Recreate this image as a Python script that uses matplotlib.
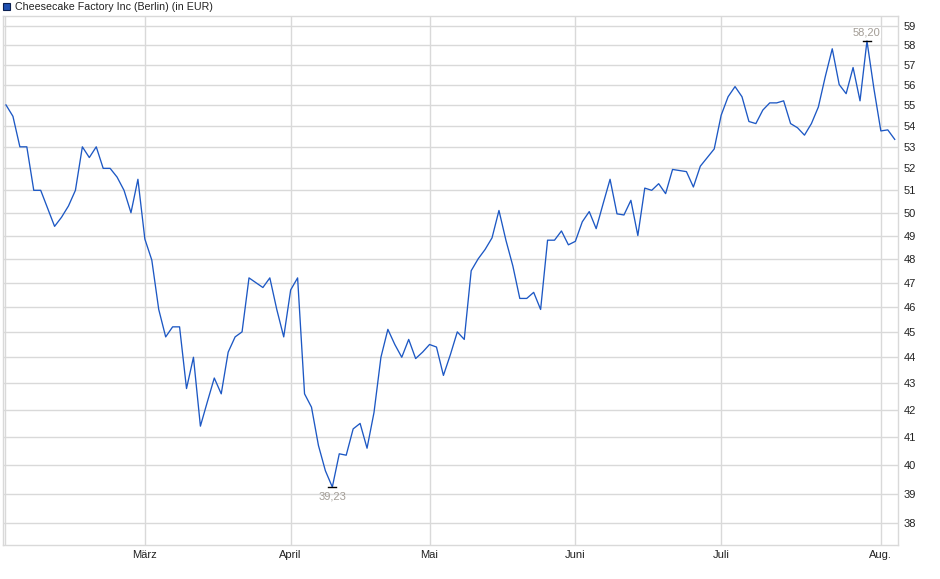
import matplotlib
matplotlib.use("Agg")
import matplotlib.pyplot as plt
from matplotlib.patches import Rectangle

# ── Data (Berlin quote, EUR, one value per trading day from early Feb) ────────
prices = [
    55.0, 54.45, 53.0, 53.0, 51.0, 51.0, 50.2, 49.4, 49.8, 50.3,
    51.0, 53.0, 52.5, 53.0, 52.0, 52.0, 51.6, 51.0, 50.0, 51.5,
    48.85, 47.95, 45.9, 44.8, 45.2, 45.2, 42.8, 44.0, 41.4, 42.3,
    43.2, 42.6, 44.2, 44.8, 45.0, 47.2, 47.0, 46.8, 47.2, 45.9,
    44.8, 46.7, 47.2, 42.6, 42.1, 40.7, 39.8, 39.23, 40.4, 40.35,
    41.3, 41.5, 40.6, 41.9, 44.0, 45.1, 44.5, 44.0, 44.7, 43.95,
    44.2, 44.5, 44.4, 43.3, 44.1, 45.0, 44.7, 47.5, 48.0, 48.4,
    48.9, 50.1, 48.8, 47.7, 46.35, 46.35, 46.6, 45.9, 48.8, 48.8,
    49.2, 48.6, 48.75, 49.6, 50.05, 49.3, 50.4, 51.5, 49.95, 49.9,
    50.55, 49.0, 51.1, 51.0, 51.3, 50.85, 51.95, 51.9, 51.85, 51.15,
    52.1, 52.5, 52.9, 54.5, 55.4, 55.9, 55.4, 54.2, 54.1, 54.75,
    55.1, 55.1, 55.2, 54.1, 53.9, 53.55, 54.1, 54.9, 56.4, 57.8,
    56.0, 55.55, 56.85, 55.2, 58.2, 55.8, 53.75, 53.8, 53.35,
]
month_pos = [20, 41, 61, 82, 103, 126]
month_labels = ["März", "April", "Mai", "Juni", "Juli", "Aug."]
y_ticks = list(range(38, 60))
title = "Cheesecake Factory Inc (Berlin) (in EUR)"

# ── Style ─────────────────────────────────────────────────────────────────────
C_LINE = "#1d58c4"
C_GRID = "#d9d9d9"
C_TEXT = "#222222"
C_NOTE = "#a39d96"

plt.rcParams["font.family"] = ["Liberation Sans", "DejaVu Sans"]

W, H = 940, 579
fig = plt.figure(figsize=(W / 100, H / 100), dpi=100)
fig.patch.set_facecolor("white")
ax = fig.add_axes([3 / W, (H - 545.3) / H, 895 / W, 529.3 / H])

xs = list(range(len(prices)))
ax.plot(xs, prices, color=C_LINE, linewidth=0.95, zorder=5)

ax.set_yscale("log")
ax.set_ylim(37.26, 59.5)
ax.set_xlim(-0.43, 128.47)

ax.set_yticks(y_ticks)
ax.set_yticklabels([str(t) for t in y_ticks])
ax.yaxis.set_minor_locator(matplotlib.ticker.NullLocator())
ax.yaxis.tick_right()
ax.tick_params(axis="y", length=0, pad=4, labelsize=8, labelcolor=C_TEXT)

ax.set_xticks([-0.15] + month_pos)
ax.set_xticklabels([""] + month_labels)
ax.tick_params(axis="x", length=0, pad=3.5, labelsize=8, labelcolor=C_TEXT)

ax.grid(True, color=C_GRID, linewidth=1.0)
ax.set_axisbelow(True)
for sp in ax.spines.values():
    sp.set_color(C_GRID)
    sp.set_linewidth(1.0)

# min / max markers
lo = min(prices)
hi = max(prices)
i_lo = prices.index(lo)
i_hi = prices.index(hi)
ax.plot([i_lo - 0.6, i_lo + 0.6], [lo, lo], color="black", linewidth=1.0, zorder=6)
ax.plot([i_hi - 0.6, i_hi + 0.6], [hi, hi], color="black", linewidth=1.0, zorder=6)
ax.annotate(f"{lo:.2f}".replace(".", ","), (i_lo, lo), xytext=(0, -3.5),
            textcoords="offset points", ha="center", va="top",
            fontsize=8, color=C_NOTE, zorder=7)
ax.annotate(f"{hi:.2f}".replace(".", ","), (i_hi, hi), xytext=(0, 2.5),
            textcoords="offset points", ha="center", va="bottom",
            fontsize=8, color=C_NOTE, zorder=7,
            bbox=dict(boxstyle="square,pad=0.05", fc="white", ec="none"))

# legend-style title
fig.patches.append(Rectangle((3 / W, (H - 10) / H), 7 / W, 7 / H,
                             transform=fig.transFigure, facecolor="#1f4fb0",
                             edgecolor="#0a1f50", linewidth=0.8))
fig.text(15 / W, (H - 6.5) / H, title, fontsize=7.7, color=C_TEXT,
         ha="left", va="center")

fig.savefig("out.png", dpi=100)
